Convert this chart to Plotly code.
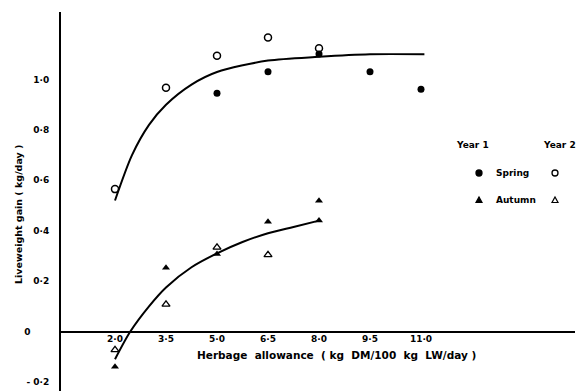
import plotly.graph_objects as go

# Data
spring_y1_x = [5.0, 6.5, 8.0, 9.5, 11.0]
spring_y1_y = [0.945, 1.031, 1.101, 1.031, 0.961]
spring_y2_x = [2.0, 3.5, 5.0, 6.5, 8.0]
spring_y2_y = [0.565, 0.967, 1.094, 1.167, 1.124]
autumn_y1_x = [2.0, 3.5, 5.0, 6.5, 8.0, 8.0]
autumn_y1_y = [-0.140, 0.253, 0.308, 0.436, 0.519, 0.44]
autumn_y2_x = [2.0, 3.5, 5.0, 6.5]
autumn_y2_y = [-0.073, 0.108, 0.334, 0.304]

spring_curve_x = [2.0, 2.5, 3.0, 3.5, 4.25, 5.0, 6.5, 8.0, 9.5, 11.1]
spring_curve_y = [0.52, 0.70, 0.82, 0.90, 0.98, 1.03, 1.075, 1.09, 1.10, 1.10]
autumn_curve_x = [2.0, 2.45, 3.0, 3.5, 4.25, 5.0, 5.75, 6.5, 7.25, 8.0]
autumn_curve_y = [-0.11, 0.0, 0.10, 0.175, 0.255, 0.31, 0.355, 0.39, 0.415, 0.44]

x_tickvals = [2.0, 3.5, 5.0, 6.5, 8.0, 9.5, 11.0]
x_ticktext = ["2·0", "3·5", "5·0", "6·5", "8·0", "9·5", "11·0"]
y_tickvals = [-0.2, 0, 0.2, 0.4, 0.6, 0.8, 1.0]
y_ticktext = ["- 0·2", "0\u2007\u2007\u2007", "0·2", "0·4", "0·6", "0·8", "1·0"]

x_title = "Herbage  allowance  ( kg  DM/100  kg  LW/day )"
y_title = "Liveweight gain ( kg/day )"

FONT = "DejaVu Sans"
W, H = 581, 391
L, R, T, B = 61, 6, 12, 0
PW, PH = W - L - R, H - T - B

def px(xp):
    return (xp - L) / PW

def py(yp):
    return (H - B - yp) / PH

fig = go.Figure()
line_style = dict(color="black", width=2, shape="spline", smoothing=0.8)
fig.add_trace(go.Scatter(x=spring_curve_x, y=spring_curve_y, mode="lines", line=line_style))
fig.add_trace(go.Scatter(x=autumn_curve_x, y=autumn_curve_y, mode="lines", line=line_style))
fig.add_trace(go.Scatter(x=spring_y1_x, y=spring_y1_y, mode="markers",
                         marker=dict(symbol="circle", size=7, color="black")))
fig.add_trace(go.Scatter(x=spring_y2_x, y=spring_y2_y, mode="markers",
                         marker=dict(symbol="circle-open", size=7, color="black", line=dict(width=1.5))))
fig.add_trace(go.Scatter(x=autumn_y1_x, y=autumn_y1_y, mode="markers",
                         marker=dict(symbol="triangle-up", size=7, color="black")))
fig.add_trace(go.Scatter(x=autumn_y2_x, y=autumn_y2_y, mode="markers",
                         marker=dict(symbol="triangle-up-open", size=7, color="black", line=dict(width=1.3))))

x0 = 2.0 - (115 - L) / 34.0
x1 = x0 + PW / 34.0
zero_px = 331.5
ppu = 252.0
y1 = (zero_px - T) / ppu
y0 = -(H - B - zero_px) / ppu
zero_paper = (H - B - zero_px) / PH

fig.update_layout(
    width=W, height=H,
    margin=dict(l=L, r=R, t=T, b=B, autoexpand=False),
    plot_bgcolor="white", paper_bgcolor="white",
    showlegend=False,
    font=dict(family=FONT, size=9, color="black"),
    xaxis=dict(range=[x0, x1], showgrid=False, zeroline=False, showline=False,
               automargin=False,
               tickvals=x_tickvals, ticktext=x_ticktext, ticks="",
               tickfont=dict(family=FONT, size=9, color="black", weight="bold"),
               anchor="free", position=zero_paper),
    yaxis=dict(range=[y0, y1], showgrid=False, zeroline=True, zerolinecolor="black",
               zerolinewidth=2, showline=True, linecolor="black", linewidth=2,
               automargin=False,
               tickvals=y_tickvals, ticktext=y_ticktext, ticks="",
               tickfont=dict(family=FONT, size=9, color="black", weight="bold"),
               ticklabelstandoff=8),
)

bold = lambda s: dict(family=FONT, size=s, color="black", weight="bold")
fig.add_annotation(text=x_title, x=px(336), y=py(355), xref="paper", yref="paper",
                   xanchor="center", yanchor="middle", showarrow=False, borderpad=0,
                   font=bold(10.5))
fig.add_annotation(text=y_title, x=px(18), y=py(215), xref="paper", yref="paper",
                   xanchor="center", yanchor="middle", showarrow=False, borderpad=0,
                   textangle=-90, font=bold(9.5))

# legend texts
legend_texts = [
    ("Year 1", 472.5, 145, "center"),
    ("Year 2", 577, 145, "right"),
    ("Spring", 495, 173, "left"),
    ("Autumn", 495, 200, "left"),
]
for text, xp, yp, align in legend_texts:
    fig.add_annotation(text=text, x=px(xp), y=py(yp), xref="paper", yref="paper",
                       xanchor=align, yanchor="middle", showarrow=False, borderpad=0,
                       font=bold(9))

# legend symbols drawn as pixel-sized shapes
def circle(xp, yp, filled):
    fig.add_shape(type="circle", xref="paper", yref="paper", xsizemode="pixel", ysizemode="pixel",
                  xanchor=px(xp), yanchor=py(yp), x0=-3, x1=3, y0=-3, y1=3,
                  line=dict(color="black", width=1.3),
                  fillcolor="black" if filled else "white")

def triangle(xp, yp, filled):
    fig.add_shape(type="path", xref="paper", yref="paper", xsizemode="pixel", ysizemode="pixel",
                  xanchor=px(xp), yanchor=py(yp), path="M -3 -2.5 L 3 -2.5 L 0 3 Z",
                  line=dict(color="black", width=1.2),
                  fillcolor="black" if filled else "white")

circle(479, 173, True)
circle(555, 173, False)
triangle(479, 200, True)
triangle(555, 200, False)

fig.write_html("out.html", config={"displayModeBar": False},
               post_script="document.body.style.margin='0';document.body.style.overflow='hidden';")
